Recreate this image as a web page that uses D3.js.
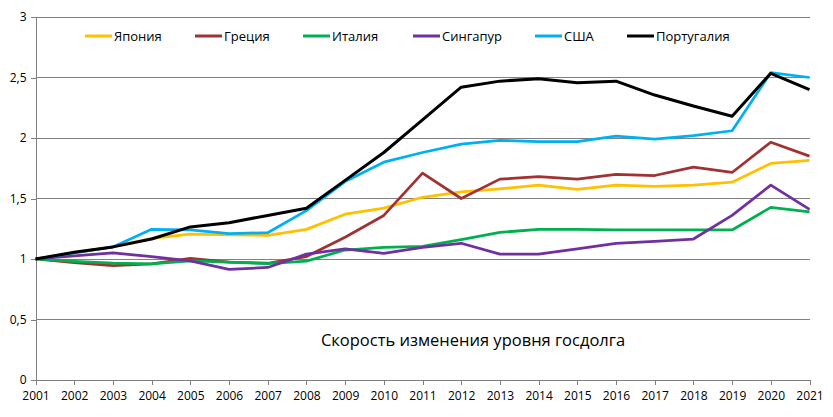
<!DOCTYPE html>
<html><head><meta charset="utf-8">
<script src="https://cdn.jsdelivr.net/npm/d3@7"></script>
<style>body{margin:0;background:#fff}svg{display:block}text{font-family:"Open Sans",sans-serif}</style>
</head><body>
<svg id="c" width="833" height="417"></svg>
<script>
const years = d3.range(2001, 2022).map(String);
const yTicks = [0, 0.5, 1, 1.5, 2, 2.5, 3];
const seriesNames = ["Япония", "Греция", "Италия", "Сингапур", "США", "Португалия"];
const colors = ["#FFC000", "#A03232", "#00B050", "#7030A0", "#00B0F0", "#000000"];
const japan =     [1.00,1.05,1.10,1.17,1.205,1.20,1.195,1.245,1.37,1.42,1.51,1.555,1.58,1.61,1.575,1.61,1.60,1.61,1.635,1.79,1.815];
const greece =    [1.00,0.97,0.945,0.96,1.005,0.975,0.965,1.02,1.18,1.36,1.71,1.50,1.66,1.68,1.66,1.70,1.69,1.76,1.715,1.965,1.85];
const italy =     [1.00,0.98,0.965,0.96,0.985,0.975,0.962,0.983,1.074,1.096,1.105,1.16,1.22,1.245,1.245,1.24,1.24,1.24,1.24,1.427,1.39];
const singapore = [1.00,1.025,1.05,1.02,0.985,0.915,0.93,1.04,1.083,1.047,1.096,1.13,1.04,1.04,1.083,1.13,1.146,1.165,1.36,1.61,1.41];
const usa =       [1.00,1.05,1.10,1.245,1.24,1.21,1.217,1.40,1.64,1.80,1.88,1.95,1.98,1.97,1.97,2.015,1.99,2.02,2.06,2.54,2.50];
const portugal =  [1.00,1.055,1.10,1.165,1.265,1.30,1.36,1.42,1.65,1.88,2.15,2.42,2.47,2.49,2.457,2.47,2.355,2.265,2.18,2.535,2.40];
const title = "Скорость изменения уровня госдолга";

const data = [japan, greece, italy, singapore, usa, portugal];
const svg = d3.select("#c");
const L = 35.5, R = 809.5, T = 17, B = 380;
const x = d3.scalePoint().domain(years).range([L, R]);
const y = d3.scaleLinear().domain([0, 3]).range([B, T]);
const grid = "#808080";

// gridlines
svg.append("g").selectAll("line").data(yTicks.filter(d => d > 0)).join("line")
  .attr("x1", L).attr("x2", R).attr("y1", d => y(d)).attr("y2", d => y(d))
  .attr("stroke", grid).attr("stroke-width", 1).attr("shape-rendering", "crispEdges");

// y axis
const yAxis = svg.append("g").attr("transform", `translate(${L},0)`)
  .call(d3.axisLeft(y).tickValues(yTicks).tickSize(5).tickPadding(4)
    .tickFormat(d => String(d).replace(".", ",")));
yAxis.select(".domain").attr("stroke", grid).attr("shape-rendering", "crispEdges");
yAxis.selectAll(".tick line").attr("stroke", grid).attr("shape-rendering", "crispEdges");
yAxis.selectAll("text").attr("font-size", 12).attr("fill", "#000").attr("font-family", "Open Sans");

// x axis
const xAxis = svg.append("g").attr("transform", `translate(0,${B})`)
  .call(d3.axisBottom(x).tickSize(5).tickPadding(6));
xAxis.select(".domain").attr("stroke", grid).attr("shape-rendering", "crispEdges");
xAxis.selectAll(".tick line").attr("stroke", grid).attr("shape-rendering", "crispEdges");
xAxis.selectAll("text").attr("font-size", 12).attr("fill", "#000").attr("font-family", "Open Sans");

// lines
const line = d3.line().x((d, i) => x(years[i])).y(d => y(d));
svg.append("g").selectAll("path").data(data).join("path")
  .attr("d", d => line(d)).attr("fill", "none")
  .attr("stroke", (d, i) => colors[i]).attr("stroke-width", (d, i) => i === 5 ? 3 : 2.75)
  .attr("stroke-linejoin", "round");

// legend
const legX = [85, 195, 303, 413, 535, 627];
const lg = svg.append("g").selectAll("g").data(seriesNames).join("g")
  .attr("transform", (d, i) => `translate(${legX[i]},36)`);
lg.append("line").attr("x1", 0).attr("x2", 27).attr("stroke", (d, i) => colors[i]).attr("stroke-width", 3);
lg.append("text").attr("x", 29).attr("y", 0).attr("dy", "0.35em").attr("font-size", 13).text(d => d);

// title
svg.append("text").attr("x", 473).attr("y", 340).attr("dy", "0.35em").attr("text-anchor", "middle")
  .attr("font-size", 16.5).text(title);
</script>
</body></html>
